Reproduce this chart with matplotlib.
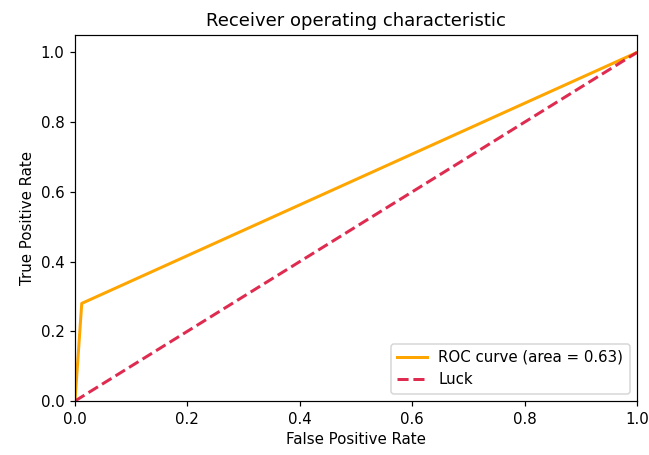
import matplotlib
matplotlib.use("Agg")
import matplotlib.pyplot as plt

fpr = [0.0, 0.012, 1.0]
tpr = [0.0, 0.28, 1.0]
roc_auc = 0.63
luck_x = [0, 1]
luck_y = [0, 1]

plt.rcParams['font.family'] = ['DejaVu Sans']
plt.rcParams['font.size'] = 10

fig = plt.figure(figsize=(649/108, 455/108), dpi=108)
ax = fig.add_axes([75/649, 1-401/455, (637-75)/649, (401-35)/455])
ax.plot(fpr, tpr, color='orange', lw=2, label='ROC curve (area = %0.2f)' % roc_auc)
ax.plot(luck_x, luck_y, linestyle='--', lw=2, color='crimson', alpha=0.9, label='Luck')
ax.set_xlim([0.0, 1.0])
ax.set_ylim([0.0, 1.05])
ax.set_xlabel('False Positive Rate')
ax.set_ylabel('True Positive Rate')
ax.set_title('Receiver operating characteristic')
ax.legend(loc='lower right')
fig.savefig('out.png', dpi=108)
